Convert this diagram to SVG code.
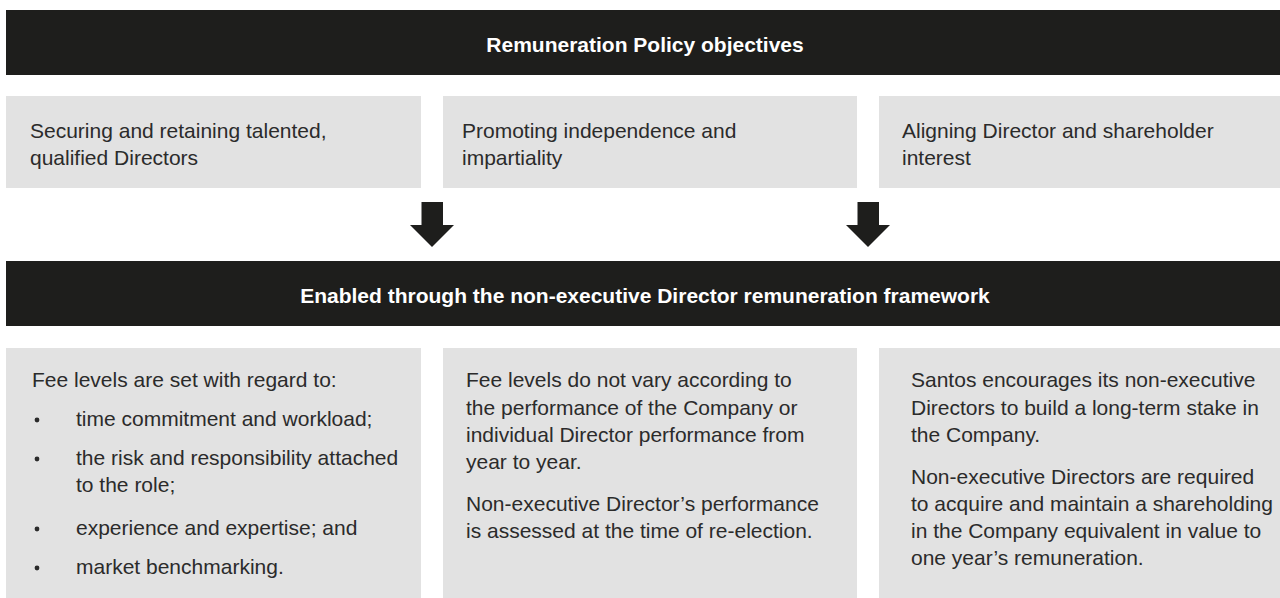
<svg xmlns="http://www.w3.org/2000/svg" width="1280" height="598" viewBox="0 0 1280 598">
<style>
.hdr{fill:#1e1e1c}
.box{fill:#e2e2e2}
.ht{font-family:"Liberation Sans",Arial,sans-serif;font-weight:bold;font-size:21px;fill:#ffffff;text-anchor:middle}
.t{font-family:"Liberation Sans",Arial,sans-serif;font-size:21px;fill:#2b2b2b}
.arrow{fill:#1e1e1c}
.dot{fill:#2b2b2b}
</style>
<rect width="1280" height="598" fill="#ffffff"/>
<g id="header-objectives">
<rect class="hdr" x="6" y="10" width="1274" height="65"/>
<text class="ht" x="645" y="52">Remuneration Policy objectives</text>
</g>
<g id="obj-securing">
<rect class="box" x="6" y="96" width="415" height="92"/>
<text class="t" x="30" y="138">Securing and retaining talented,</text>
<text class="t" x="30" y="165">qualified Directors</text>
</g>
<g id="obj-independence">
<rect class="box" x="443" y="96" width="414" height="92"/>
<text class="t" x="462" y="138">Promoting independence and</text>
<text class="t" x="462" y="165">impartiality</text>
</g>
<g id="obj-aligning">
<rect class="box" x="879" y="96" width="401" height="92"/>
<text class="t" x="902" y="138">Aligning Director and shareholder</text>
<text class="t" x="902" y="165">interest</text>
</g>
<g id="connectors">
<polygon class="arrow" points="421.5,202 443,202 443,225 454,225 432,247 410,225 421.5,225"/>
<polygon class="arrow" points="857.5,202 879,202 879,225 890,225 868,247 846,225 857.5,225"/>
</g>
<g id="header-framework">
<rect class="hdr" x="6" y="261" width="1274" height="65"/>
<text class="ht" x="645" y="303">Enabled through the non-executive Director remuneration framework</text>
</g>
<g id="fw-fee-levels">
<rect class="box" x="6" y="348" width="415" height="250"/>
<text class="t" x="32" y="387">Fee levels are set with regard to:</text>
<circle class="dot" cx="37" cy="420" r="2.4"/>
<text class="t" x="76" y="426">time commitment and workload;</text>
<circle class="dot" cx="37" cy="459" r="2.4"/>
<text class="t" x="76" y="465">the risk and responsibility attached</text>
<text class="t" x="76" y="492">to the role;</text>
<circle class="dot" cx="37" cy="529" r="2.4"/>
<text class="t" x="76" y="535">experience and expertise; and</text>
<circle class="dot" cx="37" cy="568" r="2.4"/>
<text class="t" x="76" y="574">market benchmarking.</text>
</g>
<g id="fw-performance">
<rect class="box" x="443" y="348" width="414" height="250"/>
<text class="t" x="466" y="387">Fee levels do not vary according to</text>
<text class="t" x="466" y="414.5">the performance of the Company or</text>
<text class="t" x="466" y="442">individual Director performance from</text>
<text class="t" x="466" y="469">year to year.</text>
<text class="t" x="466" y="511">Non-executive Director’s performance</text>
<text class="t" x="466" y="538">is assessed at the time of re-election.</text>
</g>
<g id="fw-shareholding">
<rect class="box" x="879" y="348" width="401" height="250"/>
<text class="t" x="911" y="387">Santos encourages its non-executive</text>
<text class="t" x="911" y="414.5">Directors to build a long-term stake in</text>
<text class="t" x="911" y="442">the Company.</text>
<text class="t" x="911" y="484">Non-executive Directors are required</text>
<text class="t" x="911" y="511">to acquire and maintain a shareholding</text>
<text class="t" x="911" y="538">in the Company equivalent in value to</text>
<text class="t" x="911" y="565">one year’s remuneration.</text>
</g>
</svg>
